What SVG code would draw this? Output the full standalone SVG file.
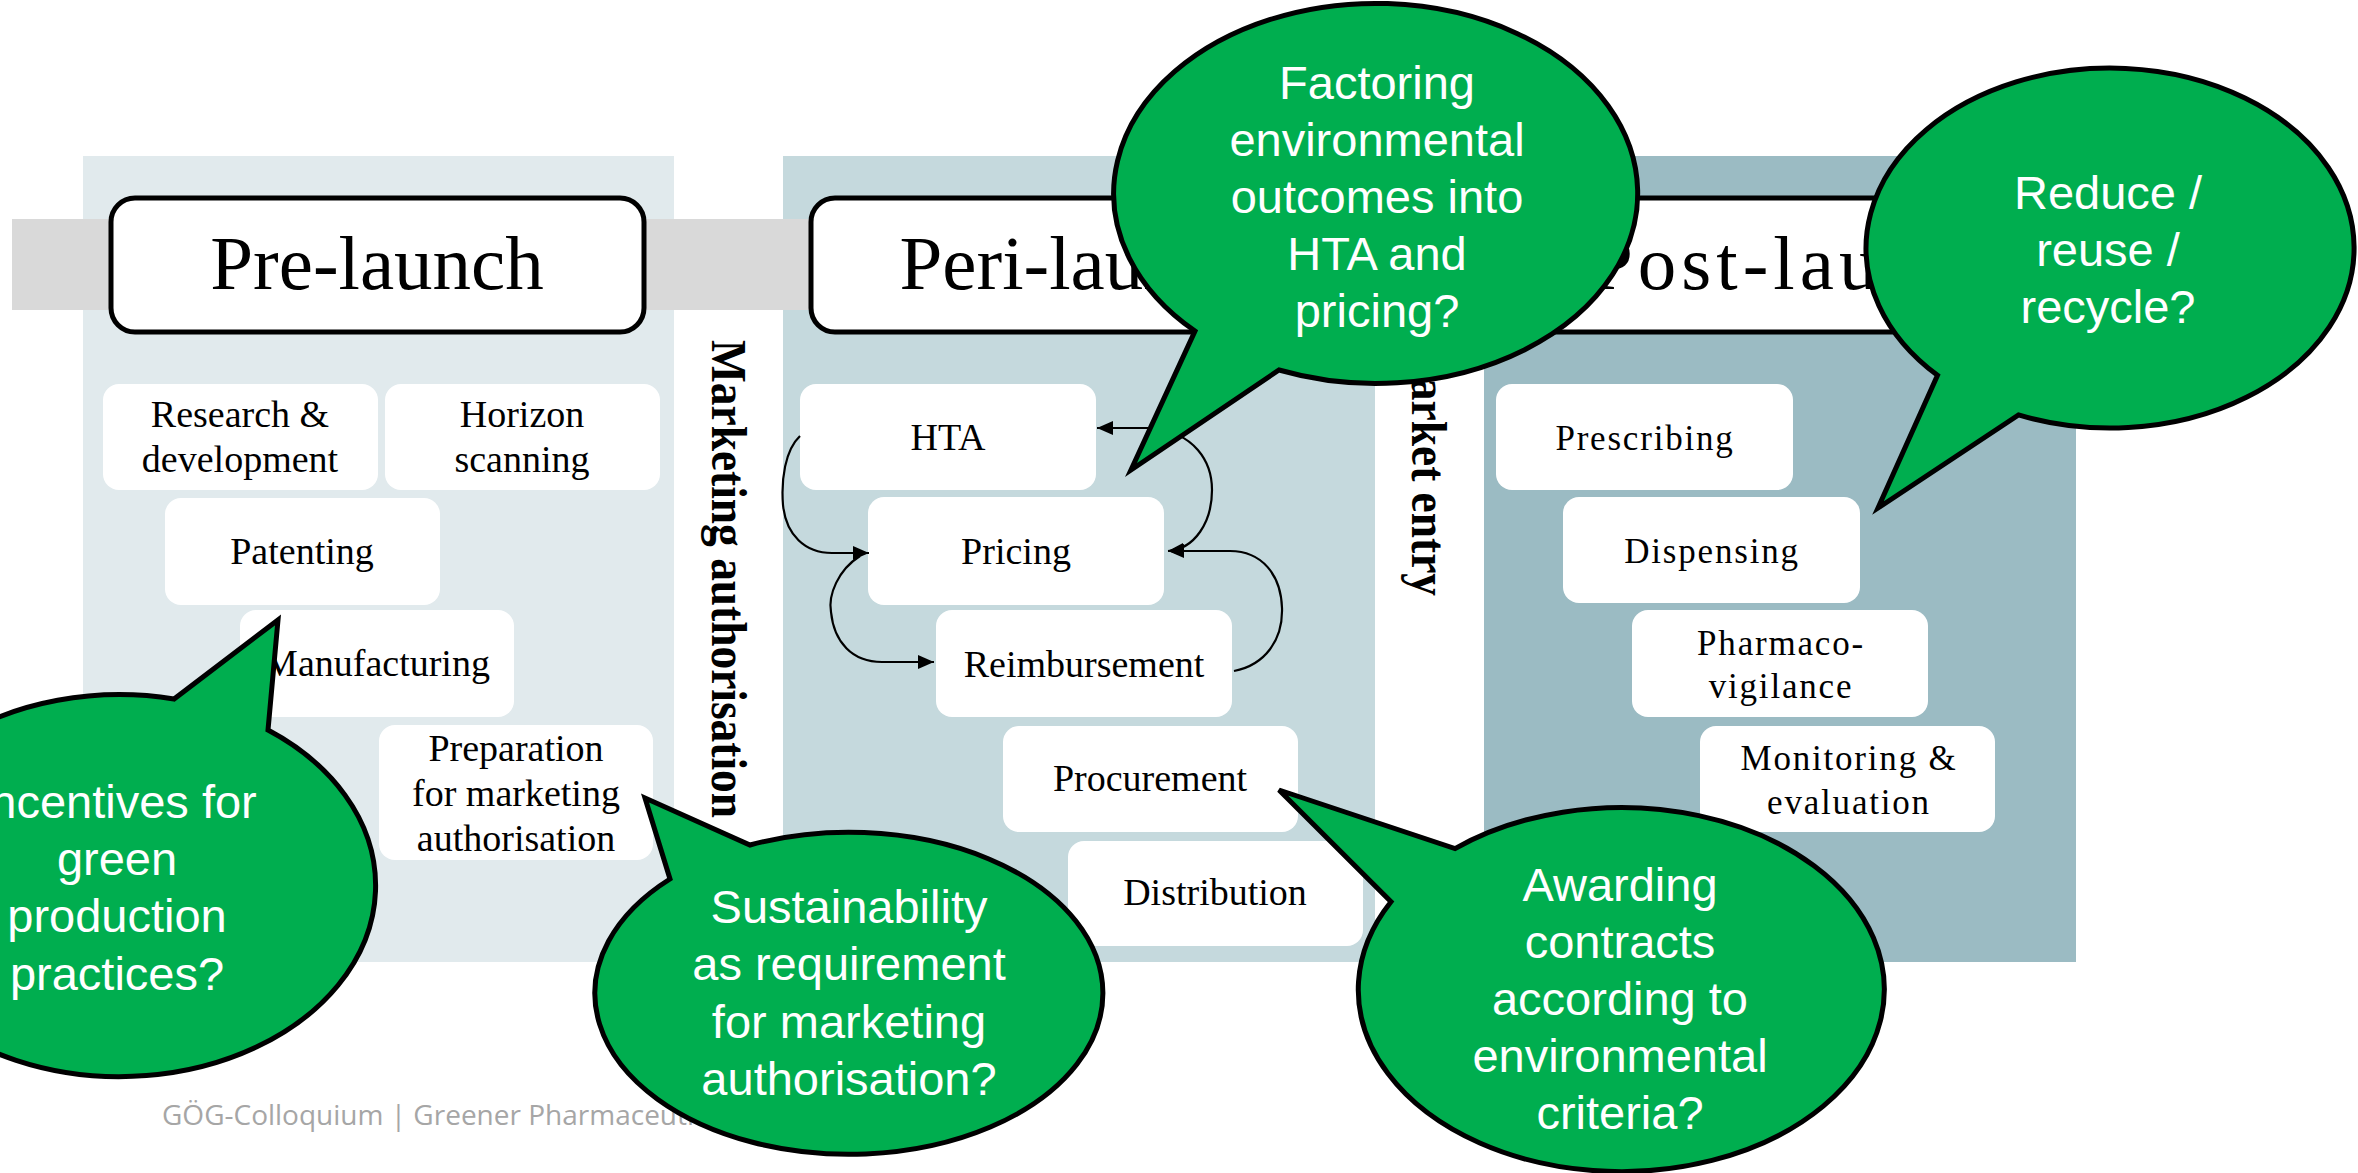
<svg xmlns="http://www.w3.org/2000/svg" width="2358" height="1173" viewBox="0 0 2358 1173">
<style>
.phase{fill:#fff;stroke:#000;stroke-width:5}
.phtxt{font-family:'Liberation Serif','Times New Roman',serif;font-size:77px;fill:#000;text-anchor:middle}
.box{fill:#fff}
.t{font-family:'Liberation Serif','Times New Roman',serif;font-size:38px;fill:#000;text-anchor:middle}
.tp{font-family:'Liberation Serif','Times New Roman',serif;font-size:35px;fill:#000;text-anchor:middle;letter-spacing:1.8px}
.vt{font-family:'Liberation Serif','Times New Roman',serif;font-size:50px;font-weight:bold;fill:#000}
.bub{fill:#00AE4F;stroke:#000;stroke-width:5;stroke-linejoin:miter}
.bt{font-family:'Liberation Sans',Arial,sans-serif;font-size:47px;fill:#fff;text-anchor:middle}
.con{fill:none;stroke:#000;stroke-width:2.2}
</style>
<defs>
<marker id="ah" markerUnits="userSpaceOnUse" markerWidth="18" markerHeight="16" refX="16" refY="7" orient="auto-start-reverse">
<path d="M0,0 L16,7 L0,14 Z" fill="#000"/>
</marker>
</defs>
<rect x="0" y="0" width="2358" height="1173" fill="#fff"/>

<g id="panels">
<rect x="83" y="156" width="591" height="806" fill="#E1EAED"/>
<rect x="783" y="156" width="592" height="806" fill="#C5D9DD"/>
<rect x="1484" y="156" width="592" height="806" fill="#9BBBC3"/>
</g>
<rect id="band" x="12" y="219" width="2030" height="91" fill="#D9D9D9"/>

<g id="phase-pre">
<rect class="phase" x="111" y="198" width="533" height="134" rx="24"/>
<text class="phtxt" x="377" y="289">Pre-launch</text>
</g>
<g id="phase-peri">
<rect class="phase" x="811" y="198" width="533" height="134" rx="24"/>
<text class="phtxt" x="1077" y="289">Peri-launch</text>
</g>
<g id="phase-post">
<rect class="phase" x="1512" y="198" width="533" height="134" rx="24"/>
<text class="phtxt" x="1590" y="289" style="text-anchor:start;letter-spacing:5px">Post-launch</text>
</g>

<g id="marketing-authorisation">
<text class="vt" transform="translate(712,340) rotate(90)" x="0" y="0" textLength="478" lengthAdjust="spacingAndGlyphs">Marketing authorisation</text>
</g>
<g id="market-entry">
<text class="vt" transform="translate(1412,335) rotate(90)" x="0" y="0" textLength="261" lengthAdjust="spacingAndGlyphs">Market entry</text>
</g>

<g id="research">
<rect class="box" x="103" y="384" width="275" height="106" rx="16"/>
<text class="t" x="240" y="427">Research &amp;</text>
<text class="t" x="240" y="472">development</text>
</g>
<g id="horizon">
<rect class="box" x="385" y="384" width="275" height="106" rx="16"/>
<text class="t" x="522" y="427">Horizon</text>
<text class="t" x="522" y="472">scanning</text>
</g>
<g id="patenting">
<rect class="box" x="165" y="498" width="275" height="107" rx="16"/>
<text class="t" x="302" y="564">Patenting</text>
</g>
<g id="manufacturing">
<rect class="box" x="240" y="610" width="274" height="107" rx="16"/>
<text class="t" x="377" y="676">Manufacturing</text>
</g>
<g id="preparation">
<rect class="box" x="379" y="725" width="274" height="135" rx="16"/>
<text class="t" x="516" y="761">Preparation</text>
<text class="t" x="516" y="806">for marketing</text>
<text class="t" x="516" y="851">authorisation</text>
</g>

<g id="hta">
<rect class="box" x="800" y="384" width="296" height="106" rx="16"/>
<text class="t" x="948" y="450">HTA</text>
</g>
<g id="pricing">
<rect class="box" x="868" y="497" width="296" height="108" rx="16"/>
<text class="t" x="1016" y="564">Pricing</text>
</g>
<g id="reimbursement">
<rect class="box" x="936" y="610" width="296" height="107" rx="16"/>
<text class="t" x="1084" y="677">Reimbursement</text>
</g>
<g id="procurement">
<rect class="box" x="1003" y="726" width="295" height="106" rx="16"/>
<text class="t" x="1150" y="791">Procurement</text>
</g>
<g id="distribution">
<rect class="box" x="1068" y="841" width="295" height="105" rx="16"/>
<text class="t" x="1215" y="905">Distribution</text>
</g>

<g id="prescribing">
<rect class="box" x="1496" y="384" width="297" height="106" rx="16"/>
<text class="tp" x="1645" y="450">Prescribing</text>
</g>
<g id="dispensing">
<rect class="box" x="1563" y="497" width="297" height="106" rx="16"/>
<text class="tp" x="1712" y="563">Dispensing</text>
</g>
<g id="pharmacovigilance">
<rect class="box" x="1632" y="610" width="296" height="107" rx="16"/>
<text class="tp" x="1781" y="655">Pharmaco-</text>
<text class="tp" x="1781" y="698">vigilance</text>
</g>
<g id="monitoring">
<rect class="box" x="1700" y="726" width="295" height="106" rx="16"/>
<text class="tp" x="1849" y="770">Monitoring &amp;</text>
<text class="tp" x="1849" y="814">evaluation</text>
</g>

<g id="connectors">
<path class="con" d="M1168,551 C1195,549 1212,522 1212,490 C1212,462 1195,432 1150,428 L1097,428" marker-start="url(#ah)" marker-end="url(#ah)"/>
<path class="con" d="M800,436 C785,450 781,480 783,505 C786,535 805,553 832,553 L869,553" marker-end="url(#ah)"/>
<path class="con" d="M860,556 C838,570 828,595 831,612 C834,642 852,662 882,662 L934,662" marker-end="url(#ah)"/>
<path class="con" d="M1234,671 C1265,665 1283,640 1282,608 C1281,575 1262,551 1230,551 L1168,551" marker-end="url(#ah)"/>
</g>

<text id="footer" x="162" y="1125" font-family="'Open Sans',sans-serif" font-size="28" fill="#A6A6A6">GÖG-Colloquium | Greener Pharmaceutic</text>

<g id="bubble-incentives">
<path class="bub" d="M268,730 A256,191 0 1 1 174,699 L278,620 Z"/>
<text class="bt" x="117" y="818">Incentives for</text>
<text class="bt" x="117" y="875">green</text>
<text class="bt" x="117" y="932">production</text>
<text class="bt" x="117" y="990">practices?</text>
</g>
<g id="bubble-sustainability">
<path class="bub" d="M750,845 A254,161 0 1 1 670,879 L645,798 Z"/>
<text class="bt" x="849" y="923">Sustainability</text>
<text class="bt" x="849" y="980">as requirement</text>
<text class="bt" x="849" y="1038">for marketing</text>
<text class="bt" x="849" y="1095">authorisation?</text>
</g>
<g id="bubble-factoring">
<path class="bub" d="M1195,331 A262,190 0 1 1 1279,370 L1131,470 Z"/>
<text class="bt" x="1377" y="99">Factoring</text>
<text class="bt" x="1377" y="156">environmental</text>
<text class="bt" x="1377" y="213">outcomes into</text>
<text class="bt" x="1377" y="270">HTA and</text>
<text class="bt" x="1377" y="327">pricing?</text>
</g>
<g id="bubble-reduce">
<path class="bub" d="M1937.5,375.3 A244,180 0 1 1 2018.5,414.9 L1878,508 Z"/>
<text class="bt" x="2108" y="209">Reduce /</text>
<text class="bt" x="2108" y="266">reuse /</text>
<text class="bt" x="2108" y="323">recycle?</text>
</g>
<g id="bubble-awarding">
<path class="bub" d="M1455,848.6 A263,182 0 1 1 1391,901.7 L1279,790 Z"/>
<text class="bt" x="1620" y="901">Awarding</text>
<text class="bt" x="1620" y="958">contracts</text>
<text class="bt" x="1620" y="1015">according to</text>
<text class="bt" x="1620" y="1072">environmental</text>
<text class="bt" x="1620" y="1129">criteria?</text>
</g>
</svg>
